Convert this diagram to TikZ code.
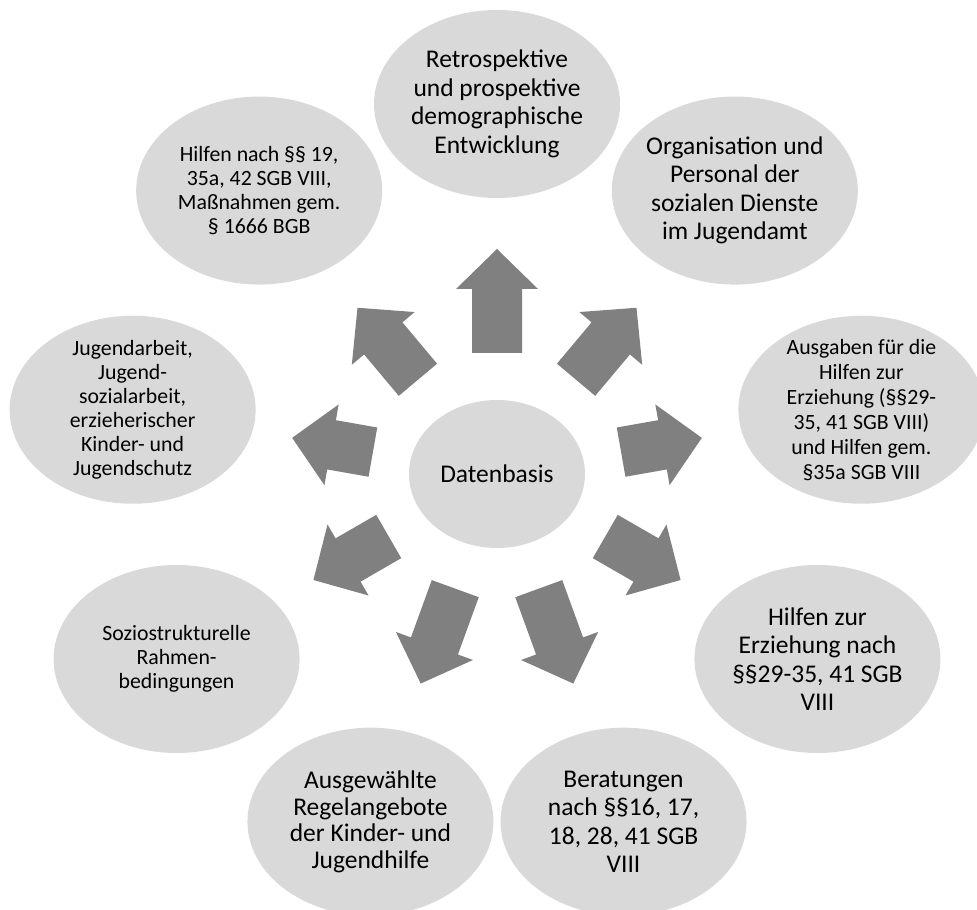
\documentclass[tikz,border=0pt]{standalone}
\usepackage{fontspec}
\setmainfont{Carlito}
\usepackage{tikz}
\usetikzlibrary{calc,shapes.geometric}
\definecolor{bubblegray}{RGB}{217,217,217}
\definecolor{arrowgray}{RGB}{128,128,128}

\begin{document}
\begin{tikzpicture}[
    x=1pt,
    y=1pt,
    font=\fontsize{25.5}{28.5}\selectfont,
    core/.style={
		ellipse,
		fill=bubblegray,
		inner sep=0pt,
		minimum width=176pt,
		minimum height=148pt
	},
    topic/.style={
		ellipse,
		fill=bubblegray,
		align=center,
		inner sep=-30pt,
		minimum width=246pt,
		minimum height=188pt
	},
	smalltext/.style={
		font=\fontsize{21.8}{24}\selectfont
	},
	push/.style={
		fill=arrowgray,
		shift={(datenbasis.center)}
	}
  ]
  \useasboundingbox (0,0) rectangle (977,910);

    % We start by placing the blocks
  \node [core] (datenbasis) at (497,436) {Datenbasis};

  \node [topic] (demografie) at ($(datenbasis)+(90:370)$)
 {Retrospektive\\und prospektive\\demographische\\Entwicklung};

  \node [topic] (organisation) at ($(datenbasis)+(50:370)$)
 {Organisation und\\Personal der\\sozialen Dienste\\im Jugendamt};

  \node [topic, smalltext, font=\fontsize{21.8}{25}\selectfont] (ausgaben) at ($(datenbasis)+(10:370)$)
 {Ausgaben für die\\Hilfen zur\\Erziehung (§§29-\\35, 41 SGB VIII)\\und Hilfen gem.\\§35a SGB VIII};

  \node [topic] (hze) at ($(datenbasis)+(-30:370)$)
 {Hilfen zur\\Erziehung nach\\§§29-35, 41 SGB\\VIII};

  \node [topic] (beratung) at ($(datenbasis)+(-70:370)$)
 {Beratungen\\nach §§16, 17,\\18, 28, 41 SGB\\VIII};

  \node [topic, font=\fontsize{25.5}{26.5}\selectfont] (regel) at ($(datenbasis)+(-110:370)$)
 {Ausgewählte\\Regelangebote\\der Kinder- und\\Jugendhilfe};

  \node [topic, smalltext] (sozio) at ($(datenbasis)+(-150:370)$)
 {Soziostrukturelle\\Rahmen-\\bedingungen};

  \node [topic, smalltext] (jugend) at ($(datenbasis)+(170:370)$)
 {Jugendarbeit,\\Jugend-\\sozialarbeit,\\erzieherischer\\Kinder- und\\Jugendschutz};

  \node [topic, smalltext] (hilfen) at ($(datenbasis)+(130:370)$)
 {Hilfen nach §§ 19,\\35a, 42 SGB VIII,\\Maßnahmen gem.\\§ 1666 BGB};

 % the block arrows point out of the centre
 \fill [push, rotate=90] (121,-25) -- (185,-25) -- (185,-41) -- (225,0) -- (185,41) -- (185,25) -- (121,25) -- cycle;
 \fill [push, rotate=50] (123,-25) -- (177,-25) -- (177,-41) -- (217,0) -- (177,41) -- (177,25) -- (123,25) -- cycle;
 \fill [push, rotate=10] (126,-25) -- (168,-25) -- (168,-41) -- (208,0) -- (168,41) -- (168,25) -- (126,25) -- cycle;
 \fill [push, rotate=-30] (125,-25) -- (172,-25) -- (172,-41) -- (212,0) -- (172,41) -- (172,25) -- (125,25) -- cycle;
 \fill [push, rotate=-70] (122,-25) -- (183,-25) -- (183,-41) -- (223,0) -- (183,41) -- (183,25) -- (122,25) -- cycle;
 \fill [push, rotate=-110] (122,-25) -- (183,-25) -- (183,-41) -- (223,0) -- (183,41) -- (183,25) -- (122,25) -- cycle;
 \fill [push, rotate=-150] (125,-25) -- (172,-25) -- (172,-41) -- (212,0) -- (172,41) -- (172,25) -- (125,25) -- cycle;
 \fill [push, rotate=170] (126,-25) -- (168,-25) -- (168,-41) -- (208,0) -- (168,41) -- (168,25) -- (126,25) -- cycle;
 \fill [push, rotate=130] (123,-25) -- (177,-25) -- (177,-41) -- (217,0) -- (177,41) -- (177,25) -- (123,25) -- cycle;

\end{tikzpicture}
\end{document}
